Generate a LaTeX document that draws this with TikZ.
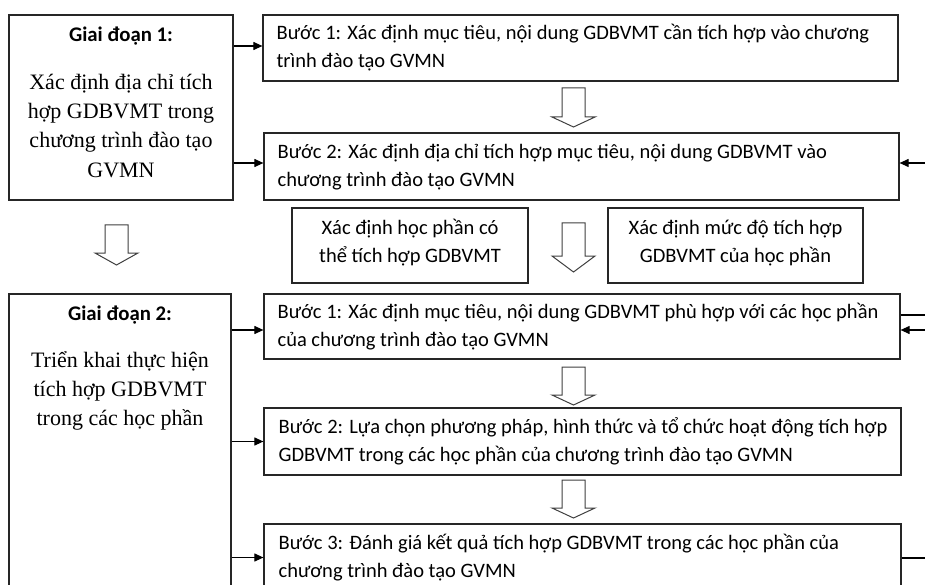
\documentclass[tikz,border=0pt]{standalone}
\usepackage{fontspec}
\setmainfont{Liberation Serif}
\newfontfamily\calib{Carlito}
\usetikzlibrary{arrows.meta,calc}
\newcommand\blkarrow[4]{%
  \draw[blk] (#1-11.5,#2) -- (#1+11.5,#2) -- (#1+11.5,#3) -- (#1+21.5,#3)
    -- (#1,#4) -- (#1-21.5,#3) -- (#1-11.5,#3) -- cycle;}
\begin{document}
\begin{tikzpicture}[x=1pt,y=-1pt,
  box/.style={draw=black!85,line width=1.2pt,inner sep=0pt,fill=white},
  stxt/.style={inner sep=0pt,align=left,font=\calib\fontsize{20.5}{28}\selectfont},
  ctxt/.style={inner sep=0pt,align=center,font=\calib\fontsize{20.5}{28}\selectfont},
  ttl/.style={inner sep=0pt,font=\calib\bfseries\fontsize{20.8}{24}\selectfont},
  body/.style={inner sep=0pt,align=center,font=\fontsize{22}{29.3}\selectfont},
  arr/.style={line width=1.1pt,-{Triangle[length=9pt,width=8pt]}},
  ln/.style={line width=1.1pt},
  blk/.style={draw=black!75,line width=1pt,fill=white}]
\path[use as bounding box,clip] (0,0) rectangle (925,585);
\fill[white] (0,0) rectangle (925,585);

% phase boxes
\node[box,minimum width=224pt,minimum height=185pt] (p1) at (121,107.5) {};
\node[box,minimum width=222pt,minimum height=366pt] (p2) at (120,477) {};

% step boxes
\node[box,minimum width=635pt,minimum height=66pt] (b1) at (580.5,48) {};
\node[box,minimum width=635pt,minimum height=67pt] (b2) at (581.5,166.5) {};
\node[box,minimum width=236pt,minimum height=75pt] (s1) at (410,245.5) {};
\node[box,minimum width=255pt,minimum height=75pt] (s2) at (735.5,245.5) {};
\node[box,minimum width=636pt,minimum height=65pt] (c1) at (582,326.5) {};
\node[box,minimum width=637pt,minimum height=67pt] (c2) at (582.5,441.5) {};
\node[box,minimum width=637pt,minimum height=67pt] (c3) at (582.5,557.5) {};

% phase texts
\node[ttl,anchor=base] (p1t) at (121,42) {Giai đoạn 1:};
\node[body,anchor=north] (p1b) at (121,68.5) {\strut Xác định địa chỉ tích\\hợp GDBVMT trong\\chương trình đào tạo\\GVMN\strut};
\node[ttl,anchor=base] (p2t) at (120,320) {Giai đoạn 2:};
\node[body,anchor=north] (p2b) at (120,346.5) {\strut Triển khai thực hiện\\tích hợp GDBVMT\\trong các học phần\strut};

% step texts
\node[stxt,anchor=west] (tb1) at ([xshift=14pt]b1.west) {\strut Bước 1: Xác định mục tiêu, nội dung GDBVMT cần tích hợp vào chương\\\strut trình đào tạo GVMN};
\node[stxt,anchor=west] (tb2) at ([xshift=14pt]b2.west) {\strut Bước 2: Xác định địa chỉ tích hợp mục tiêu, nội dung GDBVMT vào\\\strut chương trình đào tạo GVMN};
\node[ctxt] (ts1) at ([yshift=2.5pt]s1.center) {\strut Xác định học phần có\\\strut thể tích hợp GDBVMT};
\node[ctxt] (ts2) at ([yshift=2.5pt]s2.center) {\strut Xác định mức độ tích hợp\\\strut GDBVMT của học phần};
\node[stxt,anchor=west] (tc1) at ([xshift=14pt]c1.west) {\strut Bước 1: Xác định mục tiêu, nội dung GDBVMT phù hợp với các học phần\\\strut của chương trình đào tạo GVMN};
\node[stxt,anchor=west] (tc2) at ([xshift=15pt]c2.west) {\strut Bước 2: Lựa chọn phương pháp, hình thức và tổ chức hoạt động tích hợp\\\strut GDBVMT trong các học phần của chương trình đào tạo GVMN};
\node[stxt,anchor=west] (tc3) at ([xshift=15pt]c3.west) {\strut Bước 3: Đánh giá kết quả tích hợp GDBVMT trong các học phần của\\\strut chương trình đào tạo GVMN};

% block arrows
\blkarrow{573.5}{88}{117}{127}
\blkarrow{116.5}{225}{253}{265}
\blkarrow{573.5}{223}{256}{272}
\blkarrow{573.5}{367}{395}{405}
\blkarrow{573.5}{480}{508}{518}

% left connectors
\draw[arr] ([yshift=2pt]b1.west -| p1.east) -- ([yshift=2pt]b1.west);
\draw[arr] ([yshift=3.5pt]b2.west -| p1.east) -- ([yshift=3.5pt]b2.west);
\draw[arr] ([yshift=-3.5pt]c1.west -| p2.east) -- ([yshift=-3.5pt]c1.west);
\draw[arr] (c2.west -| p2.east) -- (c2.west);
\draw[arr] (c3.west -| p2.east) -- (c3.west);

% right connectors
\coordinate (rb2) at (925,163);
\coordinate (rc1a) at (925,315);
\coordinate (rc1b) at (925,330);
\coordinate (rc3) at (925,558);
\draw[arr] (rb2) -- (b2.east |- rb2);
\draw[ln] (c1.east |- rc1a) -- (rc1a);
\draw[arr] (rc1b) -- (c1.east |- rc1b);
\draw[ln] (c3.east |- rc3) -- (rc3);
\end{tikzpicture}
\end{document}
